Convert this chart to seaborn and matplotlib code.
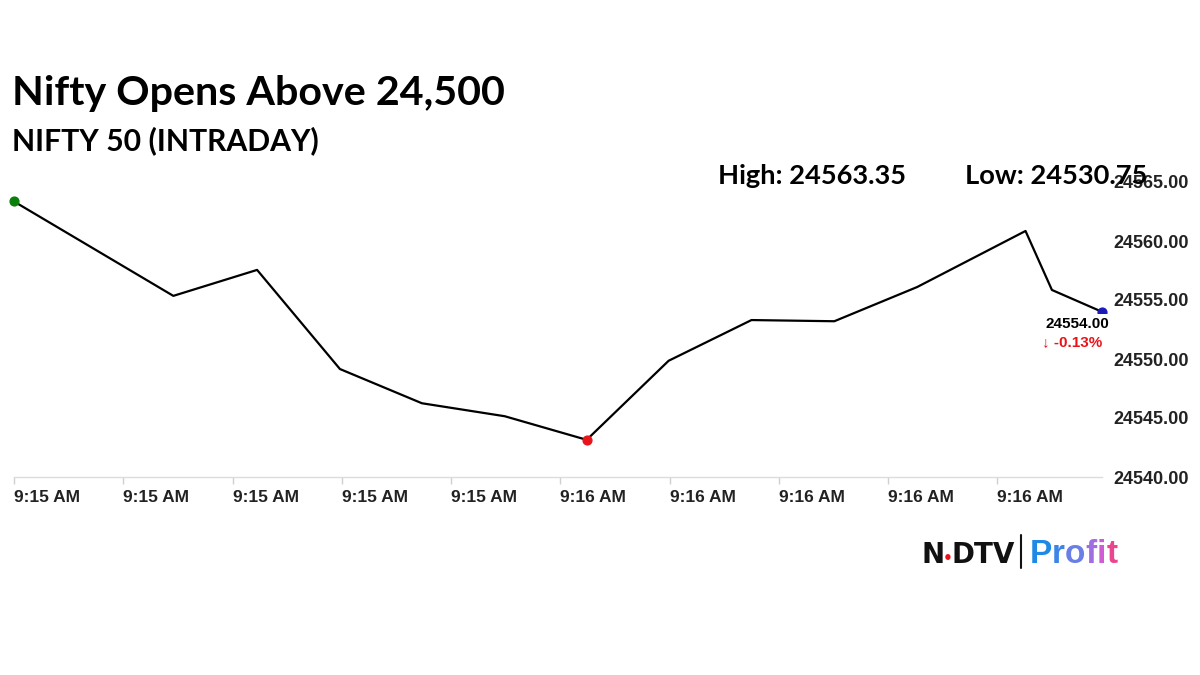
import numpy as np
import pandas as pd
import seaborn as sns
import matplotlib.pyplot as plt
from matplotlib.ticker import FixedLocator, FuncFormatter

# seconds after 9:15:00 and NIFTY 50 price
time_sec = [0.0, 17.5, 26.7, 35.8, 44.8, 53.9, 62.9, 71.9, 81.0, 90.1, 99.2, 111.1, 114.0, 119.5]
price = [24563.35, 24555.35, 24557.55, 24549.15, 24546.25, 24545.15, 24543.15,
         24549.85, 24553.30, 24553.20, 24556.10, 24560.85, 24555.85, 24554.00]

tick_sec = [0, 12, 24, 36, 48, 60, 72, 84, 96, 108]
y_ticks = [24540, 24545, 24550, 24555, 24560, 24565]

title = "Nifty Opens Above 24,500"
subtitle = "NIFTY 50 (INTRADAY)"
day_high = "24563.35"
day_low = "24530.75"
last_price = "24554.00"
change_pct = "-0.13%"

df = pd.DataFrame({"sec": time_sec, "price": price})

sns.set_style("white")
plt.rcParams['font.family'] = ['Liberation Sans', 'DejaVu Sans']

fig = plt.figure(figsize=(12, 6.75), dpi=100)
ax = fig.add_axes([14 / 1200, 1 - 477 / 675, 1088 / 1200, 295 / 675])

sns.lineplot(data=df, x="sec", y="price", color="black", linewidth=1.6, ax=ax)

# open, low and last point markers
low_i = int(np.argmin(price))
ax.scatter(time_sec[0], price[0], s=40, color="#0a7f0a", zorder=5, clip_on=False)
ax.scatter(time_sec[low_i], price[low_i], s=40, color="#e8141a", zorder=5, clip_on=False)
ax.scatter(time_sec[-1], price[-1], s=40, color="#1a1ab8", zorder=3, clip_on=False)

ax.set_xlim(time_sec[0], time_sec[-1])
ax.set_ylim(y_ticks[0], y_ticks[-1])
ax.set_xlabel("")
ax.set_ylabel("")

ax.xaxis.set_major_locator(FixedLocator(tick_sec))
ax.xaxis.set_major_formatter(FuncFormatter(lambda s, p: f"9:{15 + int(s) // 60} AM"))
ax.set_yticks(y_ticks)
ax.yaxis.set_major_formatter(FuncFormatter(lambda v, p: f"{v:.2f}"))
ax.yaxis.tick_right()

ax.tick_params(axis="x", length=5, width=1, color="#d0d0d0", pad=4, labelsize=12.5,
               labelcolor="#222222", bottom=True)
ax.tick_params(axis="y", length=0, pad=8, labelsize=13, labelcolor="#222222")
for lab in ax.get_xticklabels():
    lab.set_horizontalalignment("left")
    lab.set_fontweight("bold")
for lab in ax.get_yticklabels():
    lab.set_fontweight("bold")

for side in ["top", "left", "right"]:
    ax.spines[side].set_visible(False)
ax.spines["bottom"].set_color("#dcdcdc")
ax.spines["bottom"].set_linewidth(1)
ax.grid(False)

# last price annotation
ax.annotate(last_price, (time_sec[-1], price[-1]), xytext=(5, -4), textcoords="offset points",
            ha="right", va="top", fontsize=11, fontweight="bold", color="black",
            bbox=dict(boxstyle="square,pad=0.2", fc="white", ec="none"), zorder=6)
ax.annotate("\u2193 " + change_pct, (time_sec[-1], price[-1]), xytext=(0, -17),
            textcoords="offset points", ha="right", va="top", fontsize=11,
            fontweight="bold", color="#e8141a", zorder=6)

# headings
head = ['Lato', 'DejaVu Sans']
fig.text(12 / 1200, 1 - 105 / 675, title, family=head, fontweight="bold", fontsize=29.7,
         va="baseline", color="black")
fig.text(12 / 1200, 1 - 150 / 675, subtitle, family=head, fontweight="bold", fontsize=21.7,
         va="baseline", color="black")
fig.text(718 / 1200, 1 - 184 / 675, "High: " + day_high, family=head, fontweight="bold",
         fontsize=19.6, va="baseline", color="black")
fig.text(965 / 1200, 1 - 184 / 675, "Low: " + day_low, family=head, fontweight="bold",
         fontsize=19.6, va="baseline", color="black")

# NDTV | Profit logo, letters placed one after another
renderer = fig.canvas.get_renderer()
def put_run(x, y, parts, family, gap=0.0):
    for txt, col, size in parts:
        t = fig.text(x, y, txt, fontsize=size, fontweight="heavy", family=family,
                     color=col, va="baseline")
        bb = t.get_window_extent(renderer=renderer)
        x += bb.width / 1200 + gap
    return x

put_run(921 / 1200, 1 - 563 / 675,
        [("N", "#111111", 20), ("\u2022", "#e8141a", 11), ("DTV", "#111111", 20)],
        ['DejaVu Sans'], gap=-1.5 / 1200)
fig.add_artist(plt.Line2D([1021 / 1200, 1021 / 1200], [1 - 568 / 675, 1 - 535 / 675],
                          color="#111111", lw=1.5))
put_run(1030 / 1200, 1 - 563 / 675,
        [("P", "#1f8ae6", 24), ("r", "#3d84e8", 24), ("o", "#6a7ee6", 24),
         ("f", "#a06ee2", 24), ("i", "#d05cd4", 24), ("t", "#ea4690", 24)],
        ['Liberation Sans', 'DejaVu Sans'], gap=0.0)

fig.savefig("out.png", dpi=100, facecolor="white")
